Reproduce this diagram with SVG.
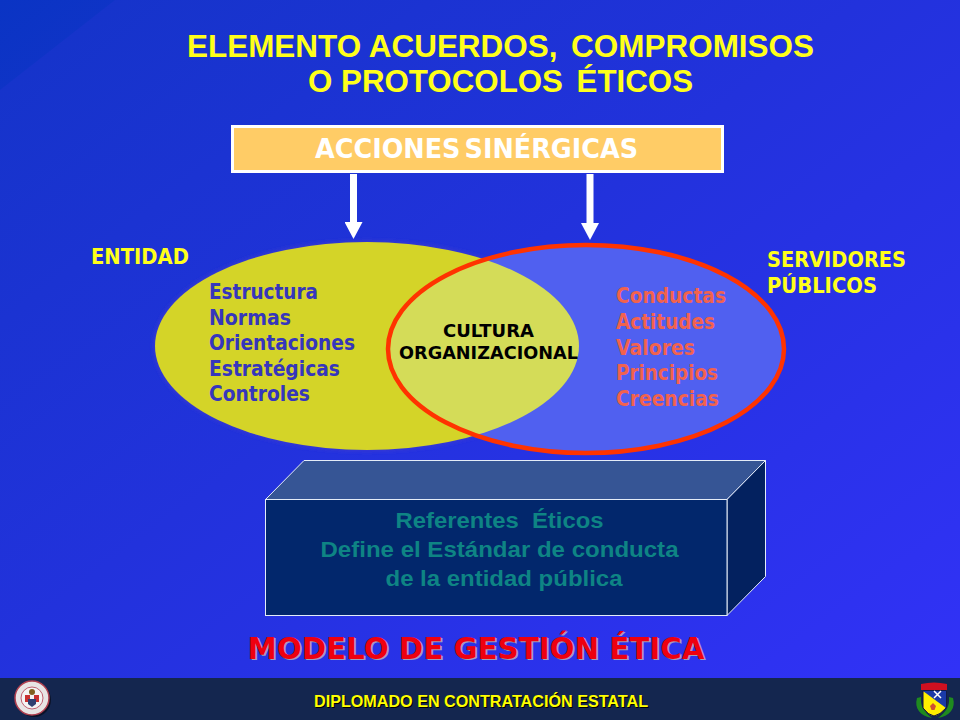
<svg xmlns="http://www.w3.org/2000/svg" width="960" height="720" viewBox="0 0 960 720">
<style>
.t{font-family:"DejaVu Sans","Noto Sans",sans-serif;font-weight:700}
.a{font-family:"Liberation Sans",Arial,sans-serif;font-weight:700}
.y{fill:#ffff1a}
.b{fill:#3636bc;font-size:21px}
.r{fill:#f2624e;font-size:21px}
.k{fill:#000;font-size:18px}
.g{fill:#0e8484;font-size:22px}
</style>
<defs>
<linearGradient id="bg" x1="0" y1="0" x2="1" y2="1"><stop offset="0" stop-color="#1434c8"/><stop offset="0.45" stop-color="#2232dc"/><stop offset="1" stop-color="#3232f8"/></linearGradient>
<linearGradient id="corner" x1="0" y1="0" x2="1" y2="1"><stop offset="0" stop-color="#0a34c4"/><stop offset="1" stop-color="#0a34c4" stop-opacity="0.300"/></linearGradient>
<clipPath id="overlap"><ellipse cx="367" cy="346" rx="212" ry="104"/></clipPath>
<filter id="sh" x="-5%" y="-5%" width="110%" height="110%"><feGaussianBlur stdDeviation="2"/></filter>
<marker id="ah" markerUnits="userSpaceOnUse" markerWidth="18" markerHeight="18" refX="0" refY="9" orient="auto"><path d="M0 0L17 9L0 18Z" fill="#fff"/></marker>
</defs>
<rect width="960" height="720" fill="url(#bg)"/>
<path d="M0 0H115L0 90Z" fill="url(#corner)"/>
<rect y="678" width="960" height="42" fill="#14264f"/>

<g id="title" class="a y" font-size="32" text-anchor="middle">
<text x="500.500" y="57" textLength="627" lengthAdjust="spacingAndGlyphs">ELEMENTO ACUERDOS, <tspan dx="5">COMPROMISOS</tspan></text>
<text x="500.500" y="92" textLength="385" lengthAdjust="spacingAndGlyphs">O PROTOCOLOS <tspan dx="5">ÉTICOS</tspan></text>
</g>

<g id="connectors">
<line x1="353.500" y1="174" x2="353.500" y2="222" stroke="#fff" stroke-width="7" marker-end="url(#ah)"/>
<line x1="590" y1="174" x2="590" y2="223" stroke="#fff" stroke-width="7" marker-end="url(#ah)"/>
</g>

<g id="acciones">
<rect x="232.500" y="126.500" width="490" height="45" fill="#ffcc66" stroke="#fff" stroke-width="3"/>
<text class="t" x="476.500" y="158" fill="#fff" font-size="27" text-anchor="middle" word-spacing="-5" textLength="323" lengthAdjust="spacingAndGlyphs">ACCIONES SINÉRGICAS</text>
</g>

<g id="entidad">
<text class="t y" x="91" y="264" font-size="20.500" textLength="98" lengthAdjust="spacingAndGlyphs">ENTIDAD</text>
<ellipse cx="367" cy="346" rx="213" ry="105" fill="#3a3ad0" filter="url(#sh)"/>
<ellipse cx="367" cy="346" rx="212" ry="104" fill="#d4d428"/>
<g class="t b">
<text x="209" y="299" textLength="109" lengthAdjust="spacingAndGlyphs">Estructura</text>
<text x="209" y="325" textLength="82" lengthAdjust="spacingAndGlyphs">Normas</text>
<text x="209" y="350" textLength="146" lengthAdjust="spacingAndGlyphs">Orientaciones</text>
<text x="209" y="376" textLength="131" lengthAdjust="spacingAndGlyphs">Estratégicas</text>
<text x="209" y="401" textLength="101" lengthAdjust="spacingAndGlyphs">Controles</text>
</g>
</g>

<g id="servidores">
<text class="t y" x="767" y="267" font-size="20.500" textLength="139" lengthAdjust="spacingAndGlyphs">SERVIDORES</text>
<text class="t y" x="767" y="293" font-size="20.500" textLength="110" lengthAdjust="spacingAndGlyphs">PÚBLICOS</text>
<ellipse cx="586" cy="349" rx="198" ry="104" fill="#5060f0"/>
<ellipse cx="586" cy="349" rx="198" ry="104" fill="#d4dc58" clip-path="url(#overlap)"/>
<ellipse cx="586" cy="349" rx="198" ry="104" fill="none" stroke="#ff3300" stroke-width="4.500"/>
<g class="t r">
<text x="616" y="303" textLength="110" lengthAdjust="spacingAndGlyphs">Conductas</text>
<text x="616" y="329" textLength="99" lengthAdjust="spacingAndGlyphs">Actitudes</text>
<text x="616" y="355" textLength="79" lengthAdjust="spacingAndGlyphs">Valores</text>
<text x="616" y="380" textLength="102" lengthAdjust="spacingAndGlyphs">Principios</text>
<text x="616" y="406" textLength="103" lengthAdjust="spacingAndGlyphs">Creencias</text>
</g>
</g>

<g id="cultura" class="t k" text-anchor="middle">
<text x="488.500" y="337" textLength="91" lengthAdjust="spacingAndGlyphs">CULTURA</text>
<text x="488.500" y="359" textLength="179" lengthAdjust="spacingAndGlyphs">ORGANIZACIONAL</text>
</g>

<g id="referentes">
<path d="M265.500 499.500L304 460.500H765.500L727 499.500Z" fill="#365595" stroke="#e4ecf8" stroke-width="1"/>
<path d="M727 499.500L765.500 460.500V576.500L727 615.500Z" fill="#03215f" stroke="#e4ecf8" stroke-width="1"/>
<rect x="265.500" y="499.500" width="461.500" height="116" fill="#02276c" stroke="#e4ecf8" stroke-width="1"/>
<g class="a g" text-anchor="middle">
<text x="499.500" y="528" xml:space="preserve" textLength="208" lengthAdjust="spacingAndGlyphs">Referentes  Éticos</text>
<text x="499.500" y="557" textLength="358" lengthAdjust="spacingAndGlyphs">Define el Estándar de conducta</text>
<text x="504" y="586" textLength="237" lengthAdjust="spacingAndGlyphs">de la entidad pública</text>
</g>
</g>

<g id="modelo" class="t" font-size="30" text-anchor="middle">
<text x="477.500" y="660" fill="#a0a0b8" textLength="457" lengthAdjust="spacingAndGlyphs">MODELO DE GESTIÓN ÉTICA</text>
<text x="476" y="658.500" fill="#ee0010" textLength="457" lengthAdjust="spacingAndGlyphs">MODELO DE GESTIÓN ÉTICA</text>
</g>

<g id="footer" class="a" font-size="16.500" text-anchor="middle">
<text x="482" y="708" fill="#000" textLength="334" lengthAdjust="spacingAndGlyphs">DIPLOMADO EN CONTRATACIÓN ESTATAL</text>
<text x="481" y="707" fill="#ffff00" textLength="334" lengthAdjust="spacingAndGlyphs">DIPLOMADO EN CONTRATACIÓN ESTATAL</text>
</g>

<g id="crest-left">
<circle cx="34" cy="700" r="17" fill="#050a18" opacity="0.700"/>
<circle cx="32" cy="698" r="17" fill="#e8e4e4" stroke="#b04050" stroke-width="1.500"/>
<circle cx="32" cy="698" r="11" fill="#f4f4f4" stroke="#c06070" stroke-width="1"/>
<path d="M25 695h5v7h-5zM34 695h5v7h-5z" fill="#c83030"/>
<path d="M28 699h8v5l-4 3-4-3z" fill="#304070"/>
<circle cx="32" cy="692" r="3" fill="#806020"/>
</g>

<g id="crest-right">
<path d="M917 698C914 708 920 716 932 718C924 712 920 706 921 697Z" fill="#1f8a1f"/>
<path d="M953 698C956 708 950 716 938 718C946 712 950 706 949 697Z" fill="#1f8a1f"/>
<path d="M921 684Q934 681 947 684V690H921Z" fill="#d01020"/>
<path d="M923 691H946V708Q940 715 934 716Q928 715 923 708Z" fill="#ffee00" stroke="#10103a" stroke-width="1"/>
<path d="M923 691H946V708Z" fill="#1a3aa8"/>
<path d="M933 703l3 3-1.500 4h-3l-1.500-4z" fill="#d05030"/>
<path d="M934 698l7-7M934 691l7 7" stroke="#fff" stroke-width="1.500"/>
</g>
</svg>
